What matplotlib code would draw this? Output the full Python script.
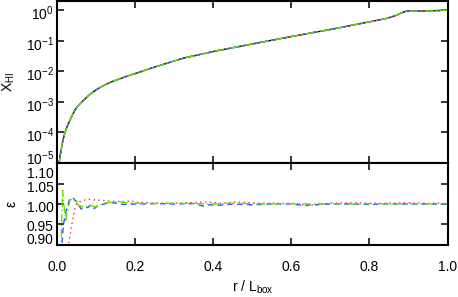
import matplotlib
matplotlib.use("Agg")
import matplotlib.pyplot as plt
import matplotlib.transforms as mtrans
import numpy as np

plt.rcParams['font.family'] = ['Liberation Sans', 'DejaVu Sans']
plt.rcParams['mathtext.fontset'] = 'custom'
plt.rcParams['mathtext.rm'] = 'Liberation Sans'
plt.rcParams['mathtext.it'] = 'Liberation Sans:italic'
plt.rcParams['mathtext.bf'] = 'Liberation Sans:bold'

# ---------------- data ----------------
r_top = [0.004, 0.007, 0.010, 0.0145, 0.0197, 0.026, 0.033, 0.039, 0.045, 0.053,
         0.063, 0.075, 0.088, 0.104, 0.122, 0.142, 0.165, 0.185, 0.208, 0.230,
         0.250, 0.280, 0.323, 0.409, 0.494, 0.580, 0.648, 0.708, 0.793, 0.845,
         0.870, 0.885, 0.896, 0.947, 1.000]
xhi = [8.0e-6, 1.66e-5, 2.8e-5, 5.6e-5, 1.0e-4, 1.66e-4, 2.6e-4, 3.8e-4, 5.3e-4, 7.4e-4,
       1.0e-3, 1.41e-3, 1.95e-3, 2.7e-3, 3.6e-3, 4.7e-3, 6.0e-3, 7.4e-3, 9.1e-3, 1.15e-2,
       1.38e-2, 1.82e-2, 2.7e-2, 4.7e-2, 7.6e-2, 0.123, 0.178, 0.245, 0.40, 0.54,
       0.69, 0.85, 0.93, 0.945, 1.0]

r_red = [0.026, 0.029, 0.035, 0.040, 0.044, 0.050, 0.061, 0.078, 0.095, 0.116,
         0.138, 0.168, 0.190, 0.200, 0.250, 0.300, 0.383, 0.420, 0.460, 0.520,
         0.600, 0.640, 0.700, 0.760, 0.800, 0.850, 0.900, 0.950, 1.000]
eps_red = [0.880, 0.903, 0.936, 0.965, 0.985, 1.002, 1.007, 1.012, 1.010, 1.009,
           1.007, 1.006, 1.008, 1.004, 1.003, 1.002, 1.005, 1.002, 1.005, 1.002,
           1.002, 0.996, 1.002, 1.003, 1.002, 1.002, 1.003, 1.002, 1.002]

r_blue = [0.010, 0.012, 0.0154, 0.022, 0.027, 0.031, 0.039, 0.048, 0.061, 0.069,
          0.078, 0.086, 0.095, 0.104, 0.116, 0.138, 0.168, 0.200, 0.250, 0.300,
          0.350, 0.374, 0.390, 0.412, 0.450, 0.500, 0.550, 0.600, 0.630, 0.700,
          0.750, 0.800, 0.850, 0.900, 0.950, 1.000]
eps_blue = [0.880, 0.903, 0.948, 0.981, 0.997, 1.010, 1.016, 1.007, 0.988, 0.993,
            0.991, 0.998, 0.989, 0.996, 0.999, 1.004, 0.999, 1.000, 1.001, 1.000,
            1.001, 0.995, 0.998, 0.997, 1.000, 0.998, 1.000, 1.000, 0.997, 1.000,
            1.000, 0.999, 1.000, 1.000, 1.000, 1.000]

r_green = [0.009, 0.011, 0.0135, 0.0175, 0.022, 0.0245, 0.029, 0.033, 0.040, 0.048,
           0.056, 0.069, 0.082, 0.099, 0.110, 0.125, 0.140, 0.159, 0.175, 0.200,
           0.250, 0.300, 0.350, 0.400, 0.450, 0.500, 0.550, 0.600, 0.650, 0.700,
           0.750, 0.800, 0.850, 0.900, 0.950, 1.000]
eps_green = [0.880, 0.950, 1.034, 0.990, 0.960, 0.975, 0.993, 1.010, 1.014, 1.004,
             0.996, 0.993, 0.997, 0.993, 0.998, 1.003, 1.004, 1.006, 1.003, 1.002,
             1.001, 1.002, 1.001, 1.000, 1.002, 1.001, 1.000, 1.001, 1.000, 1.001,
             1.000, 1.001, 1.000, 1.001, 1.000, 1.001]

xticks = [0.0, 0.2, 0.4, 0.6, 0.8, 1.0]
xtick_labels = ['0.0', '0.2', '0.4', '0.6', '0.8', '1.0']
ytop_ticks = [1e-5, 1e-4, 1e-3, 1e-2, 1e-1, 1e0]
ytop_labels = [r'10$^{-5}$', r'10$^{-4}$', r'10$^{-3}$', r'10$^{-2}$', r'10$^{-1}$', r'10$^{0}$']
ybot_ticks = [0.90, 0.95, 1.00, 1.05, 1.10]
ybot_labels = ['0.90', '0.95', '1.00', '1.05', '1.10']

# ---------------- figure ----------------
W, H = 458, 297
fig = plt.figure(figsize=(W / 100, H / 100), dpi=100)
L, R = 57.3, 447.5
ax1 = fig.add_axes([L / W, 1 - 163 / H, (R - L) / W, (163 - 1) / H])
ax2 = fig.add_axes([L / W, 1 - 245 / H, (R - L) / W, (245 - 163) / H])

lw = 1.0
c_red = '#ff3030'
c_blue = '#3050ff'
c_green = '#66e000'

ax1.plot(r_top, xhi, color='black', lw=lw, ls='-')
ax1.plot(r_top, xhi, color=c_red, lw=lw, ls=(0, (1, 2)))
ax1.plot(r_top, xhi, color=c_blue, lw=lw, ls=(0, (4, 3)))
ax1.plot(r_top, xhi, color=c_green, lw=lw, ls=(0, (6, 2, 1, 2)))
ax1.set_yscale('log')
ax1.set_xlim(0, 1)
ax1.set_ylim(1e-5, 2.0)

ax2.plot(r_red, eps_red, color=c_red, lw=lw, ls=(0, (1, 2.5)))
ax2.plot(r_blue, eps_blue, color=c_blue, lw=lw, ls=(0, (4, 3)))
ax2.plot(r_green, eps_green, color=c_green, lw=lw, ls=(0, (6, 2, 1, 2)))
ax2.set_xlim(0, 1)
ax2.set_ylim(0.899, 1.101)

fs = 10
for ax in (ax1, ax2):
    for s in ax.spines.values():
        s.set_linewidth(1.5)
    ax.minorticks_off()
    ax.tick_params(which='major', direction='in', length=5, width=1.1,
                   top=True, right=True, labelsize=fs)
    ax.tick_params(axis='x', pad=11)
    ax.tick_params(axis='y', pad=2.5)
    ax.set_xticks(xticks)

ax1.set_yticks(ytop_ticks)
ax1.set_yticklabels(ytop_labels)
ax1.tick_params(axis='x', labelbottom=False)
ax2.set_yticks(ybot_ticks)
ax2.set_yticklabels(ybot_labels)
ax2.set_xticklabels(xtick_labels)

def shift(label, dy_px):
    label.set_transform(label.get_transform() +
                        mtrans.ScaledTranslation(0, -dy_px / 100, fig.dpi_scale_trans))

for lab in ax1.get_yticklabels():
    t = lab.get_text()
    if '-5' in t:
        shift(lab, -5.5)
    else:
        shift(lab, 2)
for lab in ax2.get_yticklabels():
    t = lab.get_text()
    if t == '1.10':
        shift(lab, 9.5)
    elif t == '0.90':
        shift(lab, -6)
    elif t == '0.95':
        shift(lab, 1.5)
    else:
        shift(lab, 2.5)

fig.text((L + R) / 2 / W, 1 - 287 / H, r'r / L$_{\rm box}$', fontsize=fs,
         ha='center', va='center')
fig.text(9 / W, 1 - 82 / H, r'X$_{\rm HI}$', rotation=90, fontsize=fs,
         ha='center', va='center')
fig.text(12 / W, 1 - 204 / H, 'ε', rotation=90, fontsize=fs,
         ha='center', va='center')

fig.savefig('out.png', dpi=100)
